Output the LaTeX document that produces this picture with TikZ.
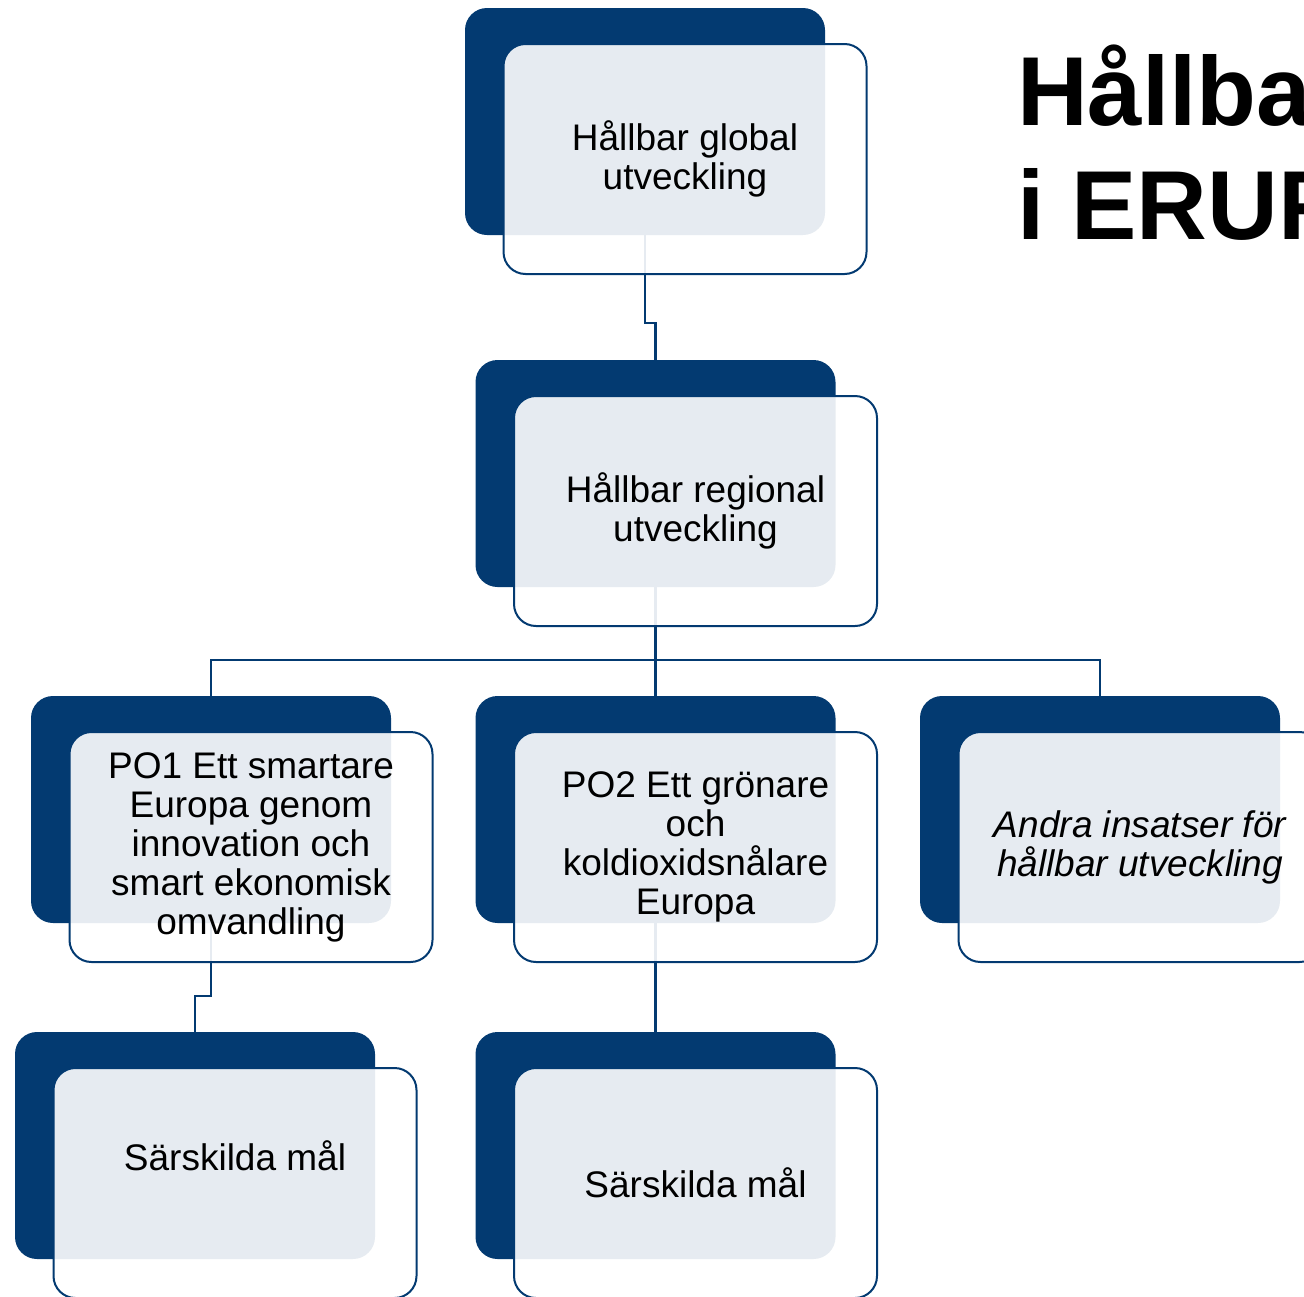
\documentclass[tikz,border=0pt]{standalone}
\usepackage{fontspec}
\setmainfont{Liberation Sans}
\definecolor{eruf}{HTML}{033A71}

\begin{document}
\begin{tikzpicture}[x=1pt, y=-1pt,
    back/.style={rectangle, rounded corners=22pt, fill=eruf, minimum width=360pt, minimum height=227pt, inner sep=0pt},
    front/.style={rectangle, rounded corners=22pt, draw=eruf, line width=2pt, fill=white, fill opacity=0.9, text opacity=1,
      minimum width=363pt, minimum height=230pt, inner sep=0pt, align=center, font=\fontsize{37}{39}\selectfont},
    boxtext/.style={align=center, inner sep=0pt, font=\fontsize{37}{39}\selectfont},
    link/.style={draw=eruf, line width=2.5pt},
    title/.style={align=left, inner sep=0pt, font=\fontsize{98}{114}\selectfont\bfseries}
  ]
  \useasboundingbox (0,0) rectangle (1304,1296);
  \clip (0,0) rectangle (1304,1296);

  % dark back plates
  \node[back] (global) at (645,121.5) {};
  \node[back] (regional) at (655.5,473.5) {};
  \node[back] (po1) at (211,809.5) {};
  \node[back] (po2) at (655.5,809.5) {};
  \node[back] (andra) at (1100,809.5) {};
  \node[back] (mal1) at (195,1145.5) {};
  \node[back] (mal2) at (655.5,1145.5) {};

  % connectors
  \draw[link] (global.south) -- ++(0,88) -| (regional.north);
  \draw[link] (regional.south) -- ++(0,73) -| (po1.north);
  \draw[link] (regional.south) -- (po2.north);
  \draw[link] (regional.south) -- ++(0,73) -| (andra.north);
  \draw[link] (po1.south) -- ++(0,73) -| (mal1.north);
  \draw[link] (po2.south) -- (mal2.north);

  % front cards
  \node[front] (globalf) at ([shift={(40,37.5)}]global.center) {Hållbar global\\utveckling};
  \node[front] (regionalf) at ([shift={(40,37.5)}]regional.center) {Hållbar regional\\utveckling};
  \node[front] (po1f) at ([shift={(40,37.5)}]po1.center) {PO1 Ett smartare\\Europa genom\\innovation och\\smart ekonomisk\\omvandling};
  \node[front] (po2f) at ([shift={(40,37.5)}]po2.center) {PO2 Ett grönare\\och\\koldioxidsnålare\\Europa};
  \node[front] (andraf) at ([shift={(40,37.5)}]andra.center) {\itshape Andra insatser för\\\itshape hållbar utveckling};
  \node[front] (mal1f) at ([shift={(40,37.5)}]mal1.center) {};
  \node[boxtext] (mal1t) at ([yshift=27pt]mal1f.center) {Särskilda mål};
  \node[front] (mal2f) at ([shift={(40,37.5)}]mal2.center) {Särskilda mål};

  % heading
  \node[title, anchor=base west] (heading) at (1017,239) {Hållbarhet\\i ERUF};
\end{tikzpicture}
\end{document}
